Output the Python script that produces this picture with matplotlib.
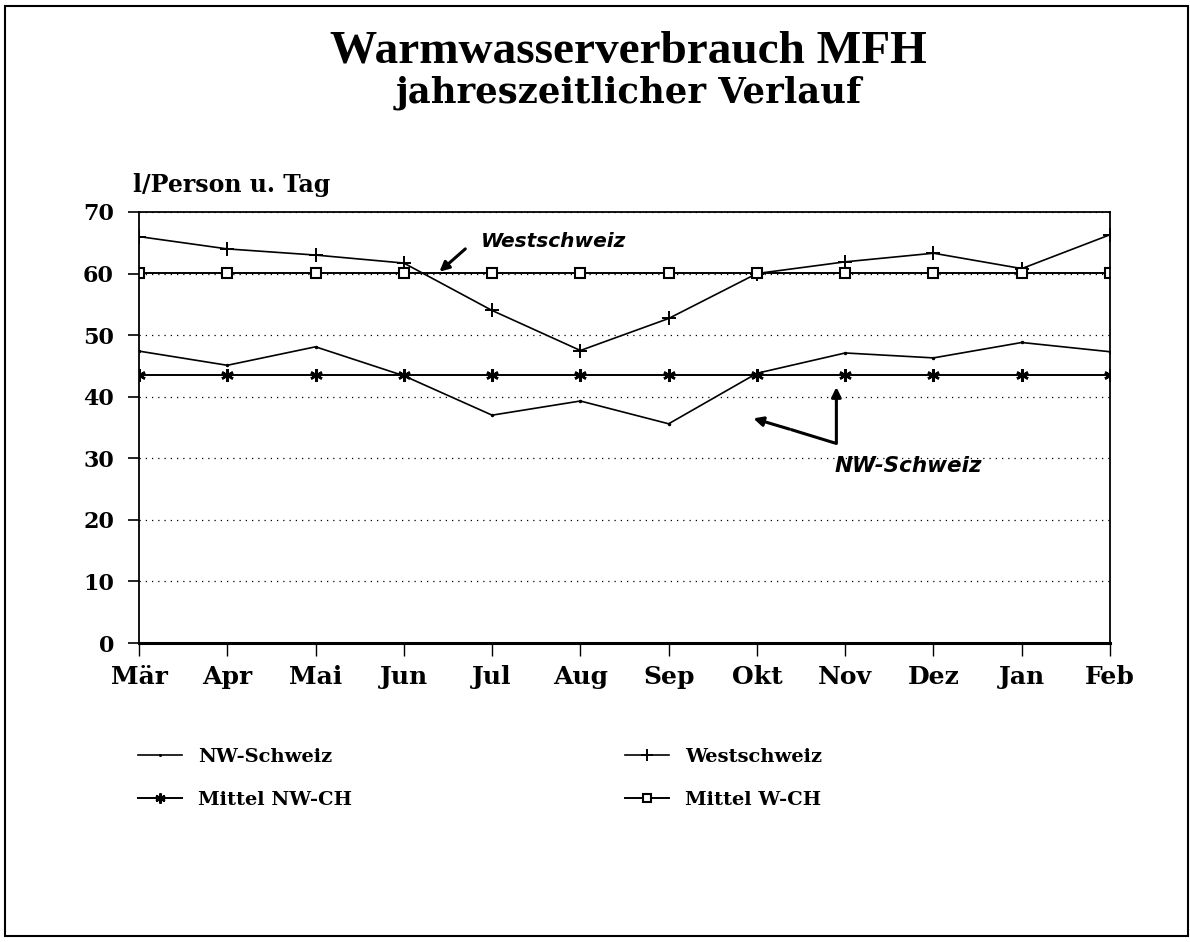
import matplotlib
matplotlib.use("Agg")
import matplotlib.pyplot as plt
from matplotlib.patches import Rectangle

# Daten
monate = ["Mär", "Apr", "Mai", "Jun", "Jul", "Aug", "Sep", "Okt", "Nov", "Dez", "Jan", "Feb"]
nw_schweiz = [47.4, 45.1, 48.1, 43.4, 37.0, 39.3, 35.6, 43.8, 47.1, 46.3, 48.8, 47.3]
westschweiz = [66.0, 64.0, 63.0, 61.7, 54.0, 47.5, 52.7, 60.0, 61.9, 63.3, 60.8, 66.3]
mittel_nw = [43.6] * 12
mittel_w = [60.1] * 12
y_ticks = [0, 10, 20, 30, 40, 50, 60, 70]

serif = "Liberation Serif"
dserif = "DejaVu Serif"
x = list(range(len(monate)))

fig = plt.figure(figsize=(11.9, 9.42), dpi=100)
ax = fig.add_axes([0.1168, 0.3174, 0.8160, 0.4576])

# Linien
l1, = ax.plot(x, nw_schweiz, color="black", lw=1.2, marker=".", ms=3, label="NW-Schweiz")
l2, = ax.plot(x, westschweiz, color="black", lw=1.2, marker="+", ms=10, mew=1.4, label="Westschweiz")
l3, = ax.plot(x, mittel_nw, color="black", lw=1.4, marker=(6, 2, 0), ms=9, mew=1.8, label="Mittel NW-CH")
l4, = ax.plot(x, mittel_w, color="black", lw=1.4, marker="s", ms=6.5, mfc="white", mew=1.5, label="Mittel W-CH")

ax.set_xlim(0, len(monate) - 1)
ax.set_ylim(0, 70)
ax.set_yticks(y_ticks)
ax.set_xticks(x)
ax.set_xticklabels(monate, fontfamily=dserif, fontweight="bold", fontsize=18)
ax.set_yticklabels([str(v) for v in y_ticks], fontfamily=dserif, fontweight="bold", fontsize=16)
ax.tick_params(axis="y", direction="out", length=8, width=1.2, pad=10)
ax.tick_params(axis="x", direction="out", length=9, width=1.0, pad=7)
for s in ax.spines.values():
    s.set_linewidth(1.3)
ax.spines["bottom"].set_linewidth(2.2)

ax.yaxis.grid(True, linestyle=(0, (1, 4)), color="black", lw=0.9)
ax.set_axisbelow(True)

# Achsentitel
ax.text(-0.07, 74.4, "l/Person u. Tag", fontfamily=dserif, fontweight="bold", fontsize=17,
        va="center", ha="left")

# Beschriftungen im Diagramm
ax.text(3.87, 65.2, "Westschweiz", fontfamily="DejaVu Sans", fontweight="bold", style="italic",
        fontsize=14.5, va="center")
ax.annotate("", xy=(3.38, 60.0), xytext=(3.72, 64.3),
            arrowprops=dict(arrowstyle="-|>", color="black", lw=2.2, mutation_scale=14))
ax.text(7.88, 28.8, "NW-Schweiz", fontfamily="DejaVu Sans", fontweight="bold", style="italic",
        fontsize=15.5, va="center")
ax.plot([7.4, 7.9, 7.9], [34.6, 32.4, 40.5], color="black", lw=2.2)
ax.annotate("", xy=(6.93, 36.6), xytext=(7.4, 34.6),
            arrowprops=dict(arrowstyle="-|>", color="black", lw=2.2, mutation_scale=14))
ax.annotate("", xy=(7.9, 42.0), xytext=(7.9, 39.0),
            arrowprops=dict(arrowstyle="-|>", color="black", lw=2.2, mutation_scale=14))

# Titel
fig.text(0.528, 0.945, "Warmwasserverbrauch MFH", fontfamily=serif, fontweight="bold",
         fontsize=34, ha="center", va="center")
fig.text(0.528, 0.902, "jahreszeitlicher Verlauf", fontfamily=dserif, fontweight="bold",
         fontsize=25.5, ha="center", va="center")

# Legende (zwei Spalten)
leg_props = dict(family=dserif, weight="bold", size=14)
leg1 = fig.legend([l1, l3], ["NW-Schweiz", "Mittel NW-CH"], loc="upper left",
                  bbox_to_anchor=(128 / 1190, 1 - 738 / 942), frameon=False, prop=leg_props,
                  borderpad=0, handlelength=2.3, handletextpad=0.8, labelspacing=1.3,
                  markerscale=0.8)
leg2 = fig.legend([l2, l4], ["Westschweiz", "Mittel W-CH"], loc="upper left",
                  bbox_to_anchor=(615 / 1190, 1 - 738 / 942), frameon=False, prop=leg_props,
                  borderpad=0, handlelength=2.3, handletextpad=0.8, labelspacing=1.3,
                  markerscale=0.8)

# Rahmen
fig.patches.append(Rectangle((0.004, 0.006), 0.994, 0.988, transform=fig.transFigure,
                             fill=False, lw=1.5, ec="black"))

fig.savefig("out.png", dpi=100)
